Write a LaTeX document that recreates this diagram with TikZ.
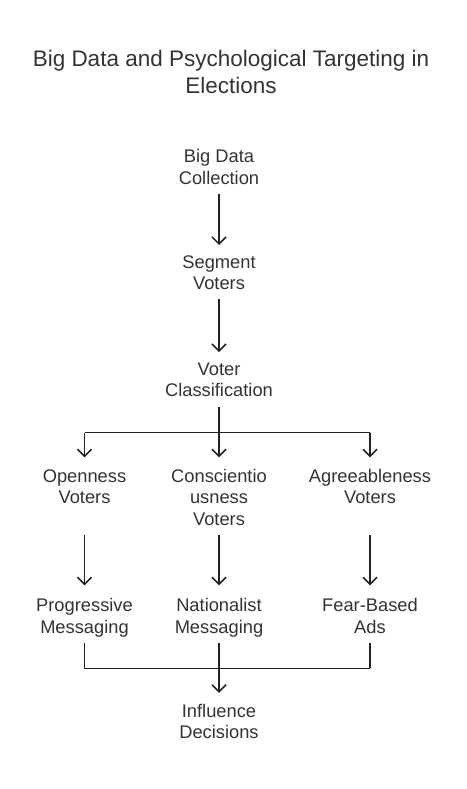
\documentclass[tikz,border=0pt]{standalone}
\usepackage{fontspec}
\setmainfont{Liberation Sans}
\usetikzlibrary{arrows.meta}
\definecolor{txt}{HTML}{333333}
\definecolor{ln}{HTML}{222222}
\begin{document}
\begin{tikzpicture}[x=1pt,y=-1pt,
  lbl/.style={anchor=north,inner sep=0pt,align=center,text=txt,font=\fontsize{18.3}{21.7}\selectfont},
  ttl/.style={anchor=north,inner sep=0pt,align=center,text=txt,font=\fontsize{22.5}{26.7}\selectfont},
  conn/.style={draw=ln,line width=1.5pt},
  arr/.style={conn,-{Straight Barb[length=7pt,width=14pt,line width=1.5pt]}}]
\useasboundingbox (0,0) rectangle (466,789);
\node[ttl] (title) at (231,47.5) {\strut Big Data and Psychological Targeting in\\Elections\strut};
\node[lbl] (bdc) at (219,147.5) {\strut Big Data\\Collection\strut};
\node[lbl] (seg) at (219,252.8) {\strut Segment\\Voters\strut};
\node[lbl] (vc) at (219,359.8) {\strut Voter\\Classification\strut};
\node[lbl] (open) at (84.5,466.8) {\strut Openness\\Voters\strut};
\node[lbl] (consc) at (219,466.8) {\strut Conscientio\\usness\\Voters\strut};
\node[lbl] (agree) at (370,466.8) {\strut Agreeableness\\Voters\strut};
\node[lbl] (prog) at (84.5,596.3) {\strut Progressive\\Messaging\strut};
\node[lbl] (nat) at (219,596.3) {\strut Nationalist\\Messaging\strut};
\node[lbl] (fear) at (370,596.3) {\strut Fear-Based\\Ads\strut};
\node[lbl] (infl) at (219,701.8) {\strut Influence\\Decisions\strut};
\coordinate (split) at (219,432.7);
\coordinate (merge) at (219,668.3);
\draw[arr,shorten <=2.5pt,shorten >=7.8pt] (bdc.south) -- (seg.north);
\draw[arr,shorten <=2.5pt,shorten >=7.8pt] (seg.south) -- (vc.north);
\draw[conn,shorten <=3pt] (vc.south) -- (split);
\draw[arr,shorten >=9.5pt] (split -| open.north) -- (open.north);
\draw[arr,shorten >=9.5pt] (split) -- (consc.north);
\draw[arr,shorten >=9.5pt] (split -| agree.north) -- (agree.north);
\draw[conn] (split -| open.north) -- (split -| agree.north);
\draw[arr,shorten <=3pt,shorten >=11pt] (consc.south -| open.south) -- (prog.north);
\draw[arr,shorten <=3pt,shorten >=11pt] (consc.south) -- (nat.north);
\draw[arr,shorten <=3pt,shorten >=11pt] (consc.south -| agree.south) -- (fear.north);
\draw[conn,shorten <=3pt] (prog.south) -- (merge -| prog.south) -- (merge -| fear.south);
\draw[conn,shorten <=3pt] (fear.south) -- (merge -| fear.south);
\draw[conn,shorten <=3pt] (nat.south) -- (merge);
\draw[arr,shorten >=9pt] (merge) -- (infl.north);
\end{tikzpicture}
\end{document}
